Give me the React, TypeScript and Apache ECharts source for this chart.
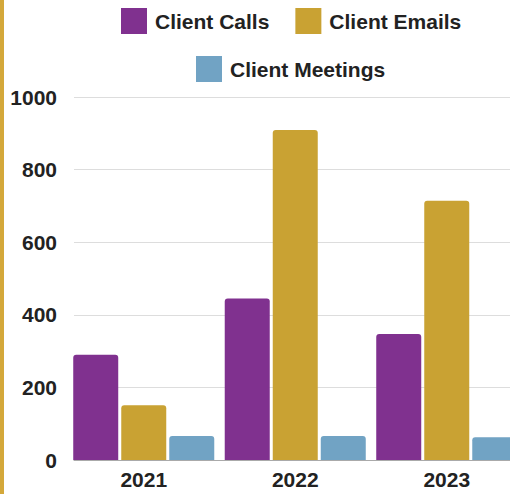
import React, { useEffect, useRef } from "react";
import * as echarts from "echarts";

const years = ["2021", "2022", "2023"];
const clientCalls = [290, 445, 347];
const clientEmails = [151, 909, 714];
const clientMeetings = [66, 66, 63];
const yTicks = { min: 0, max: 1000, interval: 200 };

const FONT = "'Liberation Sans', Arial, sans-serif";
const TEXT = "#222222";
const PURPLE = "#80318f";
const GOLD = "#c9a233";
const BLUE = "#71a3c4";

export default function App() {
  const ref = useRef<HTMLDivElement>(null);
  useEffect(() => {
    if (!ref.current) return;
    const chart = echarts.init(ref.current, null, { renderer: "svg" });
    const legendCommon = {
      icon: "rect",
      itemWidth: 26,
      itemHeight: 26,
      itemGap: 26,
      padding: 0,
      itemStyle: { borderWidth: 0 },
      textStyle: {
        fontFamily: FONT,
        fontSize: 21,
        fontWeight: "bold",
        color: TEXT,
        padding: [0, 0, 0, 3],
      },
    };
    chart.setOption({
      animation: false,
      textStyle: { fontFamily: FONT },
      graphic: [
        {
          type: "rect",
          left: 0,
          top: 0,
          shape: { x: 0, y: 0, width: 4, height: 494 },
          style: { fill: "#d4a83a" },
          silent: true,
        },
      ],
      legend: [
        { ...legendCommon, left: 121, top: 8, data: ["Client Calls", "Client Emails"] },
        { ...legendCommon, left: 196, top: 56, data: ["Client Meetings"] },
      ],
      grid: [
        { left: 74, width: 460, top: 97, bottom: 34, containLabel: false, outerBoundsMode: "none" },
        { left: 68, width: 454.5, top: 97, bottom: 34, containLabel: false, outerBoundsMode: "none" },
      ],
      xAxis: [
        {
          type: "category",
          gridIndex: 0,
          data: years,
          axisLine: { show: true, lineStyle: { color: "#aaaaaa", width: 1 } },
          axisTick: { show: false },
          axisLabel: { show: false },
          splitLine: { show: false },
        },
        {
          type: "category",
          gridIndex: 1,
          data: years,
          axisLine: { show: false },
          axisTick: { show: false },
          axisLabel: {
            margin: 9,
            fontFamily: FONT,
            fontSize: 21,
            fontWeight: "bold",
            color: TEXT,
          },
        },
      ],
      yAxis: [
        {
          type: "value",
          gridIndex: 0,
          min: yTicks.min,
          max: yTicks.max,
          interval: yTicks.interval,
          axisLine: { show: false },
          axisTick: { show: false },
          axisLabel: {
            margin: 17,
            fontFamily: FONT,
            fontSize: 21,
            fontWeight: "bold",
            color: TEXT,
            formatter: (v: number) => String(v),
          },
          splitLine: { lineStyle: { color: "#dddddd", width: 1 } },
        },
        {
          type: "value",
          gridIndex: 1,
          min: yTicks.min,
          max: yTicks.max,
          interval: yTicks.interval,
          show: false,
          splitLine: { show: false },
        },
      ],
      series: [
        {
          name: "Client Calls",
          type: "bar",
          xAxisIndex: 1,
          yAxisIndex: 1,
          data: clientCalls,
          barWidth: 45,
          barGap: "6.7%",
          itemStyle: { color: PURPLE, borderRadius: [3, 3, 0, 0] },
        },
        {
          name: "Client Emails",
          type: "bar",
          xAxisIndex: 1,
          yAxisIndex: 1,
          data: clientEmails,
          barWidth: 45,
          barGap: "6.7%",
          itemStyle: { color: GOLD, borderRadius: [3, 3, 0, 0] },
        },
        {
          name: "Client Meetings",
          type: "bar",
          xAxisIndex: 1,
          yAxisIndex: 1,
          data: clientMeetings,
          barWidth: 45,
          barGap: "6.7%",
          itemStyle: { color: BLUE, borderRadius: [3, 3, 0, 0] },
        },
      ],
    });
    return () => chart.dispose();
  }, []);
  return (
    <div
      ref={ref}
      style={{ position: "fixed", left: 0, top: 0, width: 510, height: 494, background: "#ffffff" }}
    />
  );
}
